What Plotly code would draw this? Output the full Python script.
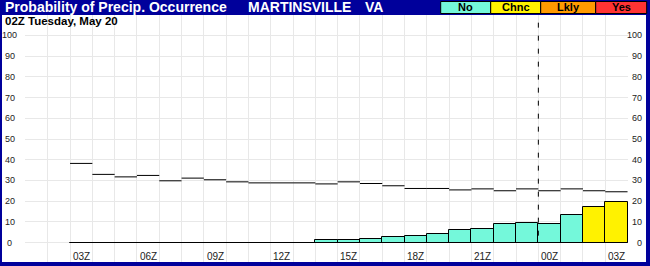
import plotly.graph_objects as go

# ---------------- data ----------------
slot_labels = ["01Z", "02Z", "03Z", "04Z", "05Z", "06Z", "07Z", "08Z", "09Z", "10Z",
               "11Z", "12Z", "13Z", "14Z", "15Z", "16Z", "17Z", "18Z", "19Z", "20Z",
               "21Z", "22Z", "23Z", "00Z", "01Z", "02Z", "03Z"]
data_start = 2  # first slot with data (03Z)
pop_values = [0, 0, 0, 0, 0, 0, 0, 0, 0, 0, 0,
              1.0, 1.4, 1.9, 2.7, 3.2, 4.2, 5.8, 6.6, 9.0, 9.5, 9.0, 13.4, 17.2, 19.8]
ref_values = [38.2, 32.9, 31.7, 32.4, 29.8, 31.1, 30.3, 29.3, 28.8, 28.8, 28.8,
              28.3, 29.3, 28.5, 27.4, 26.1, 26.1, 25.4, 25.9, 25.0, 25.9, 25.0, 25.9, 25.0, 24.5]
y_ticks = [0, 10, 20, 30, 40, 50, 60, 70, 80, 90, 100]
cat_names = ["No", "Chnc", "Lkly", "Yes"]
cat_lower = [0, 15, 55, 75]
cat_colors = ["#74F8DA", "#FFF200", "#FF9A00", "#FF3333"]
marker_slot = "00Z"
title_left = "Probability of Precip. Occurrence"
station = "MARTINSVILLE"
state = "VA"
subtitle = "02Z Tuesday, May 20"

# ---------------- geometry helpers ----------------
W, H = 650, 266
L, R, T, B = 25, 22, 15, 4
PW, PH = W - L - R, H - T - B
def px(p):
    return (p - L) / PW
def py(p):
    return (H - B - p) / PH

FRAME = "#00009B"
FONT = "Arial, Liberation Sans, sans-serif"

def cat_color(v):
    c = cat_colors[0]
    for lo, col in zip(cat_lower, cat_colors):
        if v >= lo:
            c = col
    return c

n = len(pop_values)
xs = [data_start + i + 0.5 for i in range(n)]

fig = go.Figure()

# baseline under the bars
fig.add_trace(go.Scatter(x=[data_start, data_start + n], y=[0, 0], mode="lines",
                         line=dict(color="black", width=1), hoverinfo="skip", showlegend=False))

fig.add_trace(go.Bar(x=xs, y=pop_values, width=1,
                     marker=dict(color=[cat_color(v) for v in pop_values],
                                 line=dict(color="black", width=1)),
                     showlegend=False))

# horizontal step segments (no risers)
sx, sy = [], []
for i, v in enumerate(ref_values):
    sx += [data_start + i, data_start + i + 1, None]
    sy += [v, v, None]
fig.add_trace(go.Scatter(x=sx, y=sy, mode="lines", line=dict(color="black", width=1),
                         connectgaps=False, hoverinfo="skip", showlegend=False))

# dashed marker line
mi = data_start + slot_labels[data_start:].index(marker_slot)
fig.add_trace(go.Scatter(x=[mi, mi], y=[106.2, 0], mode="lines",
                         line=dict(color="black", width=1, dash="5px,8px"),
                         hoverinfo="skip", showlegend=False))

shapes = []
annotations = []
# frame
shapes.append(dict(type="rect", xref="paper", yref="paper", x0=px(0), x1=px(W), y0=py(T), y1=py(0),
                   fillcolor=FRAME, line=dict(width=0), layer="above"))
shapes.append(dict(type="rect", xref="paper", yref="paper", x0=px(0), x1=px(2), y0=py(H), y1=py(0),
                   fillcolor=FRAME, line=dict(width=0), layer="above"))
shapes.append(dict(type="rect", xref="paper", yref="paper", x0=px(646), x1=px(W), y0=py(H), y1=py(0),
                   fillcolor=FRAME, line=dict(width=0), layer="above"))
shapes.append(dict(type="rect", xref="paper", yref="paper", x0=px(0), x1=px(W), y0=py(H), y1=py(262),
                   fillcolor=FRAME, line=dict(width=0), layer="above"))

# legend boxes in title bar
box_edges = [440.7, 490.7, 540.7, 595.7, 646.7]
for i, (name, col) in enumerate(zip(cat_names, cat_colors)):
    shapes.append(dict(type="rect", xref="paper", yref="paper",
                       x0=px(box_edges[i]), x1=px(box_edges[i + 1]), y0=py(13.5), y1=py(1.5),
                       fillcolor=col, line=dict(color="black", width=1), layer="above"))
    annotations.append(dict(text="<b>%s</b>" % name, xref="paper", yref="paper",
                            x=px((box_edges[i] + box_edges[i + 1]) / 2), y=py(7.5),
                            xanchor="center", yanchor="middle", showarrow=False,
                            font=dict(family=FONT, size=11, color="black")))

annotations.append(dict(text="<b>%s</b>" % title_left, xref="paper", yref="paper", x=px(3), y=py(7.5),
                        xanchor="left", yanchor="middle", showarrow=False,
                        font=dict(family=FONT, size=14, color="white")))
annotations.append(dict(text="<b>%s</b>" % station, xref="paper", yref="paper", x=px(245.5), y=py(7.5),
                        xanchor="left", yanchor="middle", showarrow=False,
                        font=dict(family=FONT, size=14, color="white")))
annotations.append(dict(text="<b>%s</b>" % state, xref="paper", yref="paper", x=px(363), y=py(7.5),
                        xanchor="left", yanchor="middle", showarrow=False,
                        font=dict(family=FONT, size=14, color="white")))
annotations.append(dict(text="<b>%s</b>" % subtitle, xref="paper", yref="paper", x=px(3), y=py(21.5),
                        xanchor="left", yanchor="middle", showarrow=False,
                        font=dict(family=FONT, size=11.5, color="black")))

# y tick labels both sides
for v in y_ticks:
    annotations.append(dict(text=str(v), xref="paper", yref="y", x=px(9.5), y=v,
                            xanchor="center", yanchor="middle", showarrow=False,
                            font=dict(family=FONT, size=9, color="#222")))
    annotations.append(dict(text=str(v), xref="paper", yref="y", x=px(644), y=v,
                            xanchor="right", yanchor="middle", showarrow=False,
                            font=dict(family=FONT, size=9, color="#222")))

# x tick labels every 3 hours
for k in range(data_start, len(slot_labels), 3):
    annotations.append(dict(text=slot_labels[k], xref="x", yref="paper", x=k + 0.5, y=py(256),
                            xanchor="center", yanchor="middle", showarrow=False,
                            font=dict(family=FONT, size=10, color="#222")))

fig.update_layout(
    width=W, height=H,
    margin=dict(l=L, r=R, t=T, b=B, pad=0),
    paper_bgcolor="white", plot_bgcolor="white",
    shapes=shapes, annotations=annotations,
    bargap=0, showlegend=False,
    xaxis=dict(range=[-0.02, len(slot_labels) + 0.02], tickvals=list(range(len(slot_labels) + 1)),
               showticklabels=False, ticks="", showgrid=True, gridcolor="#E8E8E8", gridwidth=1,
               zeroline=False, showline=False, fixedrange=True),
    yaxis=dict(range=[-9.42, 109.9], tickvals=y_ticks, showticklabels=False, ticks="",
               showgrid=True, gridcolor="#E8E8E8", gridwidth=1, zeroline=False, showline=False,
               fixedrange=True),
)

fig.write_html("out.html", config=dict(displayModeBar=False))
